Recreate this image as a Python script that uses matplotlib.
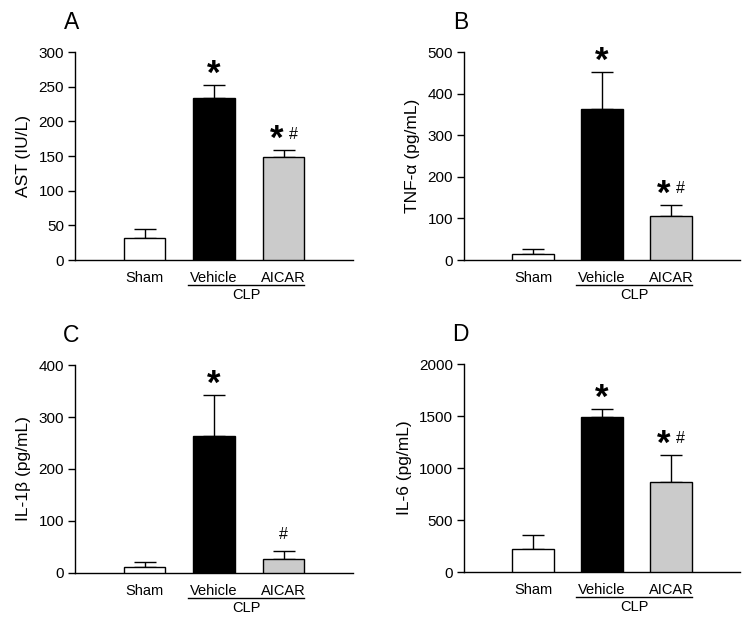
import matplotlib
matplotlib.use("Agg")
import matplotlib.pyplot as plt
import matplotlib.transforms as mtransforms

plt.rcParams['font.family'] = ['Liberation Sans', 'DejaVu Sans']

groups = ['Sham', 'Vehicle', 'AICAR']
colors = ['white', 'black', '#cbcbcb']

ast_mean = [32, 233, 148]
ast_err = [12, 19, 10]
tnf_mean = [14, 363, 106]
tnf_err = [13, 88, 26]
il1b_mean = [11, 264, 26]
il1b_err = [10, 78, 17]
il6_mean = [221, 1494, 861]
il6_err = [131, 71, 265]

ylabels = ['AST (IU/L)', 'TNF-\u03b1 (pg/mL)', 'IL-1\u03b2 (pg/mL)', 'IL-6 (pg/mL)']
letters = ['A', 'B', 'C', 'D']
ymax = [300, 500, 400, 2000]
ystep = [50, 100, 100, 500]
marks = [['', '*', '*#'], ['', '*', '*#'], ['', '*', '#'], ['', '*', '*#']]

W, H = 754, 629
fig = plt.figure(figsize=(W / 100, H / 100), dpi=100)

# axes boxes in pixels: left, top, right, bottom
boxes = [(75, 52, 353, 260), (464, 52, 740, 260),
         (75, 365, 353, 573), (464, 364, 740, 572)]

means = [ast_mean, tnf_mean, il1b_mean, il6_mean]
errs = [ast_err, tnf_err, il1b_err, il6_err]
x = [1, 2, 3]


def star(ax, xi, top):
    ax.annotate('*', (xi, top), xytext=(0, 1), textcoords='offset points',
                ha='center', va='baseline', fontsize=25, fontweight='bold')


def hash_mark(ax, xi, top):
    ax.annotate('#', (xi, top), xytext=(0, 8.5), textcoords='offset points',
                ha='center', va='baseline', fontsize=11.5)


for i in range(4):
    l, t, r, b = boxes[i]
    ax = fig.add_axes([l / W, 1 - b / H, (r - l) / W, (b - t) / H])
    ax.bar(x, means[i], width=0.6, color=colors, edgecolor='black', linewidth=1, zorder=3)
    for xi, m, e in zip(x, means[i], errs[i]):
        ax.errorbar(xi, m, yerr=[[0], [e]], fmt='none', ecolor='black',
                    elinewidth=1, capsize=8, capthick=1, zorder=2)
        txt = marks[i][xi - 1]
        top = m + e
        if txt == '*':
            star(ax, xi, top)
        elif txt == '*#':
            star(ax, xi - 0.1, top)
            hash_mark(ax, xi + 0.14, top)
        elif txt == '#':
            hash_mark(ax, xi, top)

    ax.set_xlim(0, 4)
    ax.set_ylim(0, ymax[i])
    ax.set_yticks(range(0, ymax[i] + 1, ystep[i]))
    ax.set_xticks(x)
    ax.set_xticklabels(groups)
    ax.tick_params(axis='x', length=0, pad=8, labelsize=10.5)
    ax.tick_params(axis='y', direction='out', length=5, width=1, pad=3, labelsize=11)
    ax.spines['top'].set_visible(False)
    ax.spines['right'].set_visible(False)
    ax.spines['left'].set_linewidth(1)
    ax.spines['bottom'].set_linewidth(1)
    ax.set_ylabel(ylabels[i], fontsize=12.5, labelpad=5)

    trans = mtransforms.blended_transform_factory(ax.transData, ax.transAxes)
    ax.plot([1.63, 3.3], [-0.12, -0.12], color='black', lw=1, transform=trans, clip_on=False)
    ax.text(2.47, -0.17, 'CLP', transform=trans, ha='center', va='center', fontsize=10.5)

    ax.text(-0.013, 1.11, letters[i], transform=ax.transAxes, ha='center', va='baseline', fontsize=16.5)

fig.savefig('out.png', dpi=100)
